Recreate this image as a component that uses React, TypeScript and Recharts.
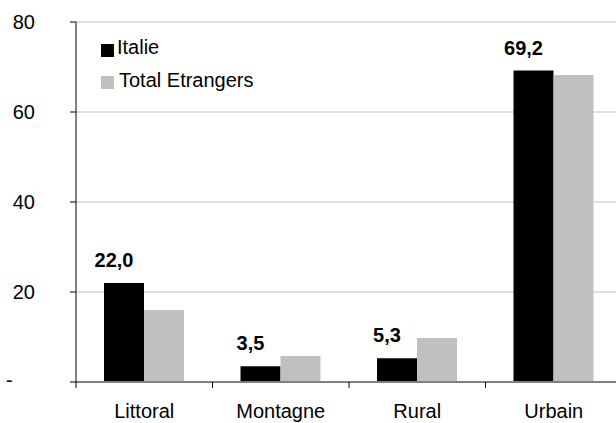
import React from 'react';
import { BarChart, Bar, XAxis, YAxis, CartesianGrid, Legend, LabelList } from 'recharts';

const categories = ['Littoral', 'Montagne', 'Rural', 'Urbain'];
const italie = [22.0, 3.5, 5.3, 69.2];
const etrangers = [16.0, 5.8, 9.8, 68.2];
const yTicks = [0, 20, 40, 60, 80];

const data = categories.map((c, i) => ({ cat: c, italie: italie[i], etrangers: etrangers[i] }));

const FONT = '"Liberation Sans", Arial, sans-serif';
const FS = 20;
const W = 624;
const H = 423;
const M = { top: 22, right: 2, left: 0, bottom: 0 };
const Y_W = 76;
const X_H = 41;
const BAND = (W - M.left - M.right - Y_W) / categories.length;

const YTick = (props: any) => {
  const { y, payload } = props;
  if (payload.value === 0) {
    return (
      <text x={6} y={y} dy={5} fontFamily={FONT} fontSize={FS} fill="#000" textAnchor="start">-</text>
    );
  }
  return (
    <text x={35} y={y} dy={7} fontFamily={FONT} fontSize={FS} fill="#000" textAnchor="end">{payload.value}</text>
  );
};

const XTick = (props: any) => {
  const { x, payload } = props;
  const axisY = H - M.bottom - X_H;
  return (
    <g>
      <line x1={x - BAND / 2} x2={x - BAND / 2} y1={axisY} y2={axisY + 6} stroke="#000" strokeWidth={1} />
      <text x={x} y={axisY + 36} fontFamily={FONT} fontSize={FS} fill="#000" textAnchor="middle">{payload.value}</text>
    </g>
  );
};

const ValueLabel = (props: any) => {
  const { x, y, width, value } = props;
  return (
    <text x={x + width / 2 - 10} y={y - 16} fontFamily={FONT} fontSize={FS} fontWeight="bold" fill="#000" textAnchor="middle">
      {Number(value).toFixed(1).replace('.', ',')}
    </text>
  );
};

const LegendContent = (props: any) => {
  const payload = props.payload || [];
  return (
    <div style={{ position: 'relative', width: 220, height: 100, fontFamily: FONT, fontSize: FS, lineHeight: '20px' }}>
      {payload.map((p: any, i: number) => (
        <React.Fragment key={i}>
          <div style={{ position: 'absolute', left: 0, top: 44 + i * 32, width: 13, height: 13, background: p.color }} />
          <div style={{ position: 'absolute', left: 16 + i * 2, top: 37 + i * 33, whiteSpace: 'nowrap', color: '#000' }}>{p.value}</div>
        </React.Fragment>
      ))}
    </div>
  );
};

export default function App() {
  return (
    <div style={{ position: 'absolute', left: 0, top: 0, width: 616, height: 423, overflow: 'hidden', background: '#fff' }}>
      <BarChart width={W} height={H} data={data} margin={M} barGap={0} barSize={40}>
        <CartesianGrid horizontal={true} vertical={false} stroke="#c0c0c0" strokeWidth={1} />
        <XAxis
          dataKey="cat"
          height={X_H}
          axisLine={{ stroke: '#808080', strokeWidth: 2 }}
          tickLine={false}
          tick={<XTick />}
          interval={0}
        />
        <YAxis
          width={Y_W}
          domain={[0, 80]}
          ticks={yTicks}
          axisLine={{ stroke: '#000', strokeWidth: 1 }}
          tickLine={{ stroke: '#000' }}
          tickSize={6}
          tick={<YTick />}
          interval={0}
        />
        <Legend
          layout="horizontal"
          verticalAlign="middle"
          align="center"
          content={<LegendContent />}
          wrapperStyle={{ left: 101, top: 0, width: 220, height: 100 }}
        />
        <Bar dataKey="italie" name="Italie" fill="#000000" isAnimationActive={false}>
          <LabelList dataKey="italie" content={<ValueLabel />} />
        </Bar>
        <Bar dataKey="etrangers" name="Total Etrangers" fill="#c0c0c0" isAnimationActive={false} />
      </BarChart>
    </div>
  );
}
